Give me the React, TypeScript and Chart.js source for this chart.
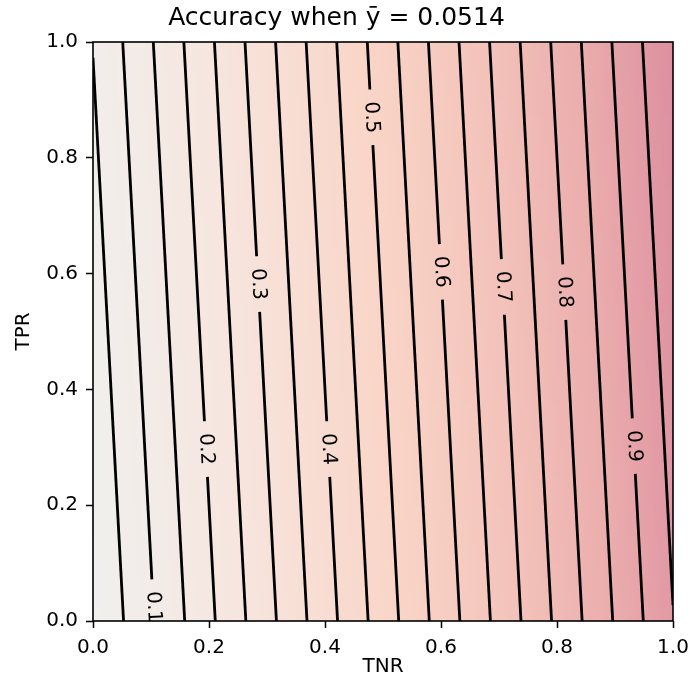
import React, { useEffect, useRef } from 'react';
import { Chart, registerables } from 'chart.js';

Chart.register(...registerables);

// ---- data ----
const Y_BAR = 0.0514;
const LEVELS = [0.05, 0.1, 0.15, 0.2, 0.25, 0.3, 0.35, 0.4, 0.45, 0.5, 0.55, 0.6, 0.65, 0.7, 0.75, 0.8, 0.85, 0.9, 0.95];
const LABEL_LEVELS = [0.1, 0.2, 0.3, 0.4, 0.5, 0.6, 0.7, 0.8, 0.9];
const LABEL_TEXT = ['0.1', '0.2', '0.3', '0.4', '0.5', '0.6', '0.7', '0.8', '0.9'];
const LABEL_TPR = [0.024, 0.297, 0.582, 0.297, 0.87, 0.603, 0.577, 0.568, 0.302];
const TICK_VALUES = [0, 0.2, 0.4, 0.6, 0.8, 1.0];
const CMAP_POS = [0, 0.25, 0.5, 0.7, 0.85, 1.0];
const CMAP_RGB = [
  [240, 240, 238],
  [247, 229, 222],
  [249, 213, 199],
  [243, 194, 186],
  [235, 173, 173],
  [221, 143, 160],
];
const TITLE = 'Accuracy when ȳ = 0.0514';
const X_LABEL = 'TNR';
const Y_LABEL = 'TPR';

const FONT = 'DejaVu Sans';
const LABEL_GAP = 0.048;

function accuracy(tnr: number, tpr: number) {
  return tpr * Y_BAR + tnr * (1 - Y_BAR);
}

function tnrOnLevel(a: number, tpr: number) {
  return (a - tpr * Y_BAR) / (1 - Y_BAR);
}

function levelRange(a: number): [number, number] {
  const tmin = Math.max(0, (a - (1 - Y_BAR)) / Y_BAR);
  const tmax = Math.min(1, a / Y_BAR);
  return [tmin, tmax];
}

function cmap(v: number) {
  const x = Math.max(0, Math.min(1, v));
  for (let i = 0; i < CMAP_POS.length - 1; i++) {
    if (x <= CMAP_POS[i + 1]) {
      const f = (x - CMAP_POS[i]) / (CMAP_POS[i + 1] - CMAP_POS[i]);
      const c0 = CMAP_RGB[i];
      const c1 = CMAP_RGB[i + 1];
      const r = Math.round(c0[0] + (c1[0] - c0[0]) * f);
      const g = Math.round(c0[1] + (c1[1] - c0[1]) * f);
      const b = Math.round(c0[2] + (c1[2] - c0[2]) * f);
      return `rgb(${r},${g},${b})`;
    }
  }
  const c = CMAP_RGB[CMAP_RGB.length - 1];
  return `rgb(${c[0]},${c[1]},${c[2]})`;
}

function buildLevelData(a: number) {
  const [tmin, tmax] = levelRange(a);
  const idx = LABEL_LEVELS.findIndex((l) => Math.abs(l - a) < 1e-9);
  const pts: any[] = [];
  const pt = (t: number) => ({ x: tnrOnLevel(a, t), y: t });
  if (idx < 0) {
    pts.push(pt(tmin), pt(tmax));
  } else {
    const t0 = LABEL_TPR[idx];
    const lo = t0 - LABEL_GAP;
    const hi = t0 + LABEL_GAP;
    if (lo > tmin) pts.push(pt(tmin), pt(lo));
    if (pts.length) pts.push({ x: null, y: null });
    if (hi < tmax) pts.push(pt(hi), pt(tmax));
  }
  return pts;
}

const backgroundPlugin = {
  id: 'contourBackground',
  beforeDatasetsDraw(chart: any) {
    const { ctx, chartArea, scales } = chart;
    const xs = scales.x;
    const ys = scales.y;
    const nx = 145;
    const ny = 40;
    ctx.save();
    ctx.beginPath();
    ctx.rect(chartArea.left, chartArea.top, chartArea.right - chartArea.left, chartArea.bottom - chartArea.top);
    ctx.clip();
    for (let i = 0; i < nx; i++) {
      const x0 = i / nx;
      const x1 = (i + 1) / nx;
      const px0 = Math.floor(xs.getPixelForValue(x0));
      const px1 = Math.ceil(xs.getPixelForValue(x1));
      for (let j = 0; j < ny; j++) {
        const y0 = j / ny;
        const y1 = (j + 1) / ny;
        const py0 = Math.ceil(ys.getPixelForValue(y0));
        const py1 = Math.floor(ys.getPixelForValue(y1));
        ctx.fillStyle = cmap(accuracy((x0 + x1) / 2, (y0 + y1) / 2));
        ctx.fillRect(px0, py1, px1 - px0 + 1, py0 - py1 + 1);
      }
    }
    ctx.restore();
  },
};

const labelPlugin = {
  id: 'contourLabels',
  afterDatasetsDraw(chart: any) {
    const { ctx, chartArea, scales } = chart;
    const xs = scales.x;
    const ys = scales.y;
    ctx.save();
    ctx.beginPath();
    ctx.rect(chartArea.left, chartArea.top, chartArea.right - chartArea.left, chartArea.bottom - chartArea.top);
    ctx.clip();
    ctx.font = `20px "${FONT}"`;
    ctx.fillStyle = '#000';
    ctx.textAlign = 'center';
    ctx.textBaseline = 'middle';
    LABEL_LEVELS.forEach((a, i) => {
      const t = LABEL_TPR[i];
      const px = xs.getPixelForValue(tnrOnLevel(a, t));
      const py = ys.getPixelForValue(t);
      const qx = xs.getPixelForValue(tnrOnLevel(a, t + 0.1));
      const qy = ys.getPixelForValue(t + 0.1);
      let ang = Math.atan2(qy - py, qx - px);
      if (ang <= -Math.PI / 2) ang += Math.PI;
      if (ang > Math.PI / 2) ang -= Math.PI;
      ctx.save();
      ctx.translate(px, py);
      ctx.rotate(ang);
      ctx.fillText(LABEL_TEXT[i], 0, 0);
      ctx.restore();
    });
    ctx.restore();
    // frame
    ctx.save();
    ctx.strokeStyle = '#000';
    ctx.lineWidth = 1.6;
    ctx.strokeRect(chartArea.left, chartArea.top, chartArea.right - chartArea.left, chartArea.bottom - chartArea.top);
    ctx.restore();
  },
};

export default function App() {
  const ref = useRef<HTMLCanvasElement | null>(null);
  useEffect(() => {
    if (!ref.current) return;
    Chart.defaults.font.family = FONT;
    const datasets = LEVELS.map((a) => ({
      label: a.toFixed(2),
      data: buildLevelData(a),
      borderColor: '#000',
      borderWidth: 2.8,
      pointRadius: 0,
      fill: false,
      spanGaps: false,
      tension: 0,
    }));
    const chart = new Chart(ref.current, {
      type: 'line',
      data: { datasets },
      options: {
        animation: false,
        responsive: false,
        devicePixelRatio: 1,
        parsing: false,
        layout: { padding: { left: 0, right: 16, top: 0, bottom: 0 } },
        plugins: {
          legend: { display: false },
          tooltip: { enabled: false },
          title: {
            display: true,
            text: TITLE,
            color: '#000',
            font: { family: FONT, size: 25, weight: 'normal' },
            padding: { top: 3, bottom: 9 },
          },
        },
        scales: {
          x: {
            type: 'linear',
            min: 0,
            max: 1,
            afterBuildTicks(scale: any) {
              scale.ticks = TICK_VALUES.map((v) => ({ value: v }));
            },
            afterFit(scale: any) {
              scale.height = 62;
              scale.paddingLeft = 0;
              scale.paddingRight = 0;
            },
            ticks: {
              color: '#000',
              font: { family: FONT, size: 20 },
              padding: 8,
              maxRotation: 0,
              callback: (v: any) => Number(v).toFixed(1),
            },
            grid: {
              display: true,
              drawOnChartArea: false,
              drawTicks: true,
              tickLength: 7,
              tickColor: '#000',
              tickWidth: 1.5,
            },
            border: { display: false },
            title: {
              display: true,
              text: X_LABEL,
              color: '#000',
              font: { family: FONT, size: 20 },
              padding: { top: 0, bottom: 4 },
            },
          },
          y: {
            type: 'linear',
            min: 0,
            max: 1,
            afterBuildTicks(scale: any) {
              scale.ticks = TICK_VALUES.map((v) => ({ value: v }));
            },
            afterFit(scale: any) {
              scale.width = 93;
              scale.paddingTop = 0;
              scale.paddingBottom = 0;
            },
            ticks: {
              color: '#000',
              font: { family: FONT, size: 20 },
              padding: 8,
              callback: (v: any) => Number(v).toFixed(1),
            },
            grid: {
              display: true,
              drawOnChartArea: false,
              drawTicks: true,
              tickLength: 7,
              tickColor: '#000',
              tickWidth: 1.5,
            },
            border: { display: false },
            title: {
              display: true,
              text: Y_LABEL,
              color: '#000',
              font: { family: FONT, size: 20 },
              padding: { top: 12, bottom: 0 },
            },
          },
        },
      },
      plugins: [backgroundPlugin, labelPlugin],
    } as any);
    return () => chart.destroy();
  }, []);
  return (
    <div style={{ position: 'absolute', left: 0, top: 0, width: 689, height: 683, background: '#fff' }}>
      <canvas ref={ref} width={689} height={683} />
    </div>
  );
}
